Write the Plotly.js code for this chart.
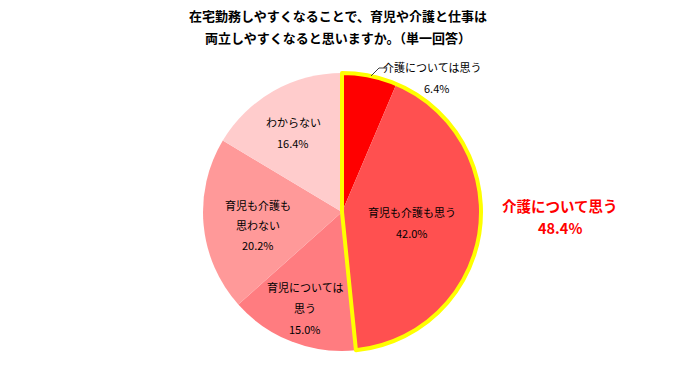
<!DOCTYPE html>
<html>
<head>
<meta charset="utf-8">
<script src="https://cdn.plot.ly/plotly-3.0.1.min.js"></script>
<style>html,body{margin:0;padding:0;background:#fff}#chart{width:691px;height:368px}</style>
</head>
<body>
<div id="chart"></div>
<script>
// ---- data ----
const titleLines = ["在宅勤務しやすくなることで、育児や介護と仕事は", "両立しやすくなると思いますか。（単一回答）"];
const categories = ["介護については思う", "育児も介護も思う", "育児については思う", "育児も介護も思わない", "わからない"];
const values = [6.4, 42.0, 15.0, 20.2, 16.4];
const highlightLabel = "介護について思う";
const highlightCount = 2; // first two slices form the highlighted group

// ---- styles / layout ----
const W = 691, H = 368;
const px = x => x / W, py = y => 1 - y / H;
const colors = ["#FF0000", "#FF5050", "#FF7C80", "#FF9999", "#FFCCCC"];
const cx = 342, cy = 212, R = 139;
const domain = {x: [px(cx - R), px(cx + R)], y: [py(cy + R), py(cy - R)]};
const font = "'Noto Sans CJK JP', 'Noto Sans', sans-serif";
// label line splits (char index) and positions of text lines [x, y0, lineGap]
const wrapAt = [null, null, 7, 6, null];
const labelPos = [[437, 67, 21], [412, 212, 21], [305, 287, 21], [258, 205, 20], [293, 122, 21]];

const highlightValue = +values.slice(0, highlightCount).reduce((a, b) => a + b, 0).toFixed(1);
const restValue = +values.slice(highlightCount).reduce((a, b) => a + b, 0).toFixed(1);

const traces = [
  {
    type: "pie", values: values, labels: categories, sort: false, direction: "clockwise", rotation: 0,
    marker: {colors: colors, line: {width: 0}}, textinfo: "none", hoverinfo: "skip", domain: domain
  },
  {
    type: "pie", values: [highlightValue, restValue], labels: ["hl", "rest"], sort: false, direction: "clockwise", rotation: 0,
    marker: {colors: ["rgba(0,0,0,0)", "rgba(0,0,0,0)"], line: {color: ["#FFFF00", "rgba(0,0,0,0)"], width: [4, 0]}},
    textinfo: "none", hoverinfo: "skip", domain: domain
  }
];

const annotations = [];
titleLines.forEach((t, i) => annotations.push({
  text: "<b>" + t + "</b>", x: px(338), y: py(15 + i * 22), xref: "paper", yref: "paper",
  xanchor: "center", yanchor: "middle", showarrow: false, font: {family: font, size: 13, color: "#000"}
}));
categories.forEach((c, i) => {
  const lines = wrapAt[i] ? [c.slice(0, wrapAt[i]), c.slice(wrapAt[i])] : [c];
  lines.push(values[i].toFixed(1) + "%");
  const [x, y0, gap] = labelPos[i];
  lines.forEach((l, j) => {
    let lx = x;
    if (i === 0 && j === 0) lx = 432;
    annotations.push({
      text: l, x: px(lx), y: py(y0 + j * gap), xref: "paper", yref: "paper",
      xanchor: "center", yanchor: "middle", showarrow: false, font: {family: font, size: 11, color: "#000"}
    });
  });
});
annotations.push({
  text: "<b>" + highlightLabel + "</b>", x: px(560), y: py(205), xref: "paper", yref: "paper",
  xanchor: "center", yanchor: "middle", showarrow: false, font: {family: font, size: 14.5, color: "#FF0000"}
});
annotations.push({
  text: "<b>" + highlightValue.toFixed(1) + "%</b>", x: px(560), y: py(227), xref: "paper", yref: "paper",
  xanchor: "center", yanchor: "middle", showarrow: false, font: {family: font, size: 14.5, color: "#FF0000"}
});

const shapes = [{
  type: "path", xref: "paper", yref: "paper",
  path: `M ${px(371)} ${py(76)} L ${px(379)} ${py(68)} L ${px(386)} ${py(68)}`,
  line: {color: "#404040", width: 1}
}];

const layout = {
  width: W, height: H, margin: {l: 0, r: 0, t: 0, b: 0},
  paper_bgcolor: "#fff", plot_bgcolor: "#fff", showlegend: false,
  annotations: annotations, shapes: shapes, font: {family: font}
};
Plotly.newPlot("chart", traces, layout, {displayModeBar: false, staticPlot: true});
</script>
</body>
</html>
